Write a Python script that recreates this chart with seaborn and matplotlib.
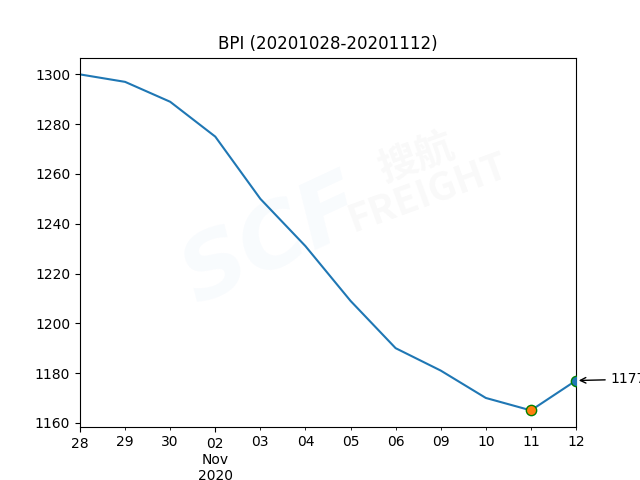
import numpy as np
import pandas as pd
import matplotlib
matplotlib.use('Agg')
import matplotlib.pyplot as plt
import seaborn as sns
from matplotlib.ticker import FixedLocator, FixedFormatter

# BPI daily values (business days only)
dates = ['2020-10-28', '2020-10-29', '2020-10-30', '2020-11-02', '2020-11-03', '2020-11-04',
         '2020-11-05', '2020-11-06', '2020-11-09', '2020-11-10', '2020-11-11', '2020-11-12']
bpi = [1300, 1297, 1289, 1275, 1250, 1231, 1209, 1190, 1181, 1170, 1165, 1177]
tick_labels = ['28', '29', '30', '02\nNov\n2020', '03', '04', '05', '06', '09', '10', '11', '12']
major_idx = [0, 3]

df = pd.DataFrame({'date': pd.to_datetime(dates), 'BPI': bpi})
df['pos'] = np.arange(len(df))

fig, ax = plt.subplots(figsize=(6.4, 4.8), dpi=100)

# faint watermark
ax.text(0.39, 0.50, 'SCF', transform=ax.transAxes, fontsize=64, fontstyle='italic',
        fontweight='bold', color='#4a90d9', alpha=0.04, rotation=25,
        ha='center', va='center', zorder=0)
ax.text(0.69, 0.68, '搜航\nFREIGHT', transform=ax.transAxes, fontsize=28, fontstyle='italic',
        fontweight='bold', color='#888888', alpha=0.05, rotation=20, linespacing=0.9,
        ha='center', va='center', zorder=0, family=['Noto Sans CJK SC', 'DejaVu Sans'])

sns.lineplot(data=df, x='pos', y='BPI', ax=ax, color='C0', linewidth=1.5)

imin = df['BPI'].idxmin()
last = df.index[-1]
sns.scatterplot(x=[df.loc[imin, 'pos']], y=[df.loc[imin, 'BPI']], ax=ax,
                color='C1', edgecolor='green', s=55, linewidth=1, zorder=3)
sns.scatterplot(x=[df.loc[last, 'pos']], y=[df.loc[last, 'BPI']], ax=ax,
                color='C0', edgecolor='green', s=55, linewidth=1, zorder=3)

ax.annotate(str(df.loc[last, 'BPI']), xy=(df.loc[last, 'pos'], df.loc[last, 'BPI']),
            xytext=(25, -2), textcoords='offset points',
            arrowprops=dict(arrowstyle='->', color='black'), annotation_clip=False)

ax.set_xlim(df['pos'].iloc[0], df['pos'].iloc[-1])
minor_idx = [i for i in range(len(df)) if i not in major_idx]
ax.xaxis.set_major_locator(FixedLocator(major_idx))
ax.xaxis.set_major_formatter(FixedFormatter([tick_labels[i] for i in major_idx]))
ax.xaxis.set_minor_locator(FixedLocator(minor_idx))
ax.xaxis.set_minor_formatter(FixedFormatter([tick_labels[i] for i in minor_idx]))

ax.set_xlabel('')
ax.set_ylabel('')
ax.set_title('BPI (20201028-20201112)')

fig.savefig('out.png', dpi=100)
